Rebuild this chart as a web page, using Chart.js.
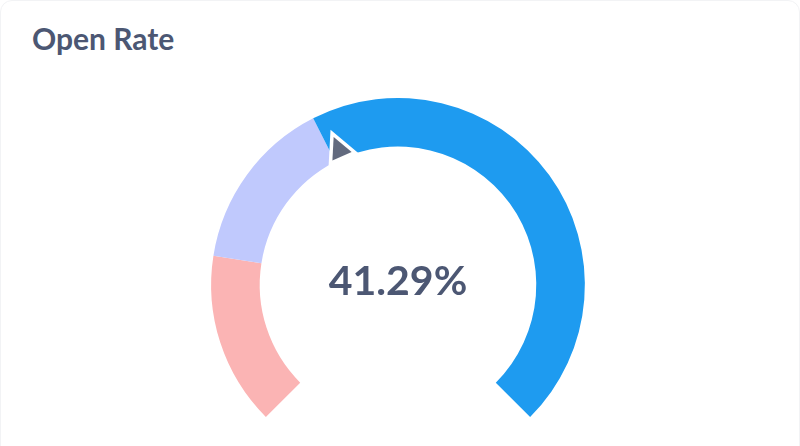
<!DOCTYPE html>
<html>
<head>
<meta charset="utf-8">
<script src="https://cdn.jsdelivr.net/npm/chart.js@4"></script>
<style>
  html, body { margin: 0; padding: 0; background: #fff; overflow: hidden; }
  .card { position: relative; width: 800px; height: 470px; box-sizing: border-box;
          border: 1px solid #f2f3f5; border-radius: 12px; font-family: Lato, sans-serif; overflow: hidden; }
  .titulo { position: absolute; left: 31px; top: 19px; font-size: 30px; font-weight: 700; color: #4c5773; }
  #gauge { position: absolute; left: -1px; top: -1px; }
</style>
</head>
<body>
<div class="card">
  <div class="titulo">Open Rate</div>
  <canvas id="gauge" width="800" height="446"></canvas>
</div>
<script>
// faixas do medidor (0-20, 20-40, 40-100)
const faixas = ["Baixo", "Medio", "Alto"];
const tamanhos = [20, 20, 60];
const cores = ["#fbb4b4", "#c0c9fd", "#1e9bf0"];
const valor = 41.29;
const rotulo = "41.29%";

const ctx = document.getElementById('gauge').getContext('2d');

// ponteiro + texto central
const ponteiro = {
  id: 'ponteiro',
  afterDatasetsDraw(chart) {
    const arcos = chart.getDatasetMeta(0).data;
    const primeiro = arcos[0], ultimo = arcos[arcos.length - 1];
    const total = tamanhos.reduce((a, b) => a + b, 0);
    const ang = primeiro.startAngle + (valor / total) * (ultimo.endAngle - primeiro.startAngle);
    const cx = primeiro.x, cy = primeiro.y;
    const rIn = primeiro.innerRadius;
    const c = chart.ctx;

    const pt = (r, t) => [cx + r * Math.cos(ang) - t * Math.sin(ang), cy + r * Math.sin(ang) + t * Math.cos(ang)];
    const b1 = pt(rIn + 2, -10.5), b2 = pt(rIn + 2, 10.5), ponta = pt(rIn + 23, 0);

    c.save();
    c.beginPath();
    c.moveTo(b1[0], b1[1]);
    c.lineTo(ponta[0], ponta[1]);
    c.lineTo(b2[0], b2[1]);
    c.closePath();
    c.lineJoin = 'miter';
    c.strokeStyle = '#ffffff';
    c.lineWidth = 7;
    c.stroke();
    c.fillStyle = '#626a7e';
    c.fill();

    c.font = '700 41px Lato';
    c.fillStyle = '#4c5773';
    c.textAlign = 'center';
    c.textBaseline = 'alphabetic';
    c.fillText(rotulo, cx, cy + 10);
    c.restore();
  }
};

new Chart(ctx, {
  type: 'doughnut',
  data: {
    labels: faixas,
    datasets: [{
      data: tamanhos,
      backgroundColor: cores,
      borderWidth: 0
    }]
  },
  options: {
    responsive: false,
    animation: false,
    rotation: -135,
    circumference: 270,
    cutout: '74%',
    layout: { padding: { top: 98, bottom: 29, left: 0, right: 4 } },
    plugins: { legend: { display: false }, tooltip: { enabled: false } }
  },
  plugins: [ponteiro]
});
</script>
</body>
</html>
